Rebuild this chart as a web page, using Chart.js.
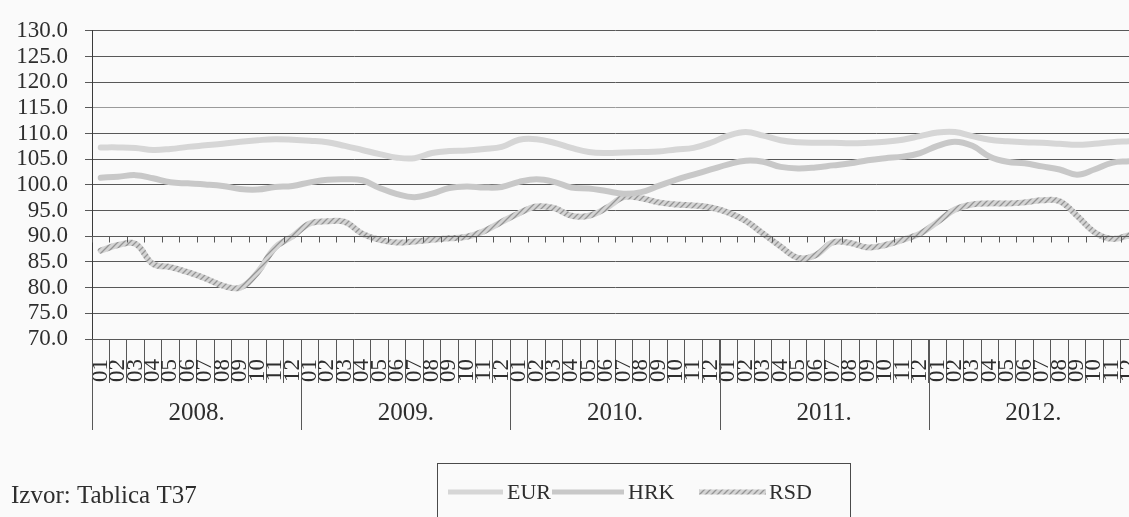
<!DOCTYPE html>
<html>
<head>
<meta charset="utf-8">
<script src="https://cdn.jsdelivr.net/npm/chart.js@4"></script>
<style>
  html, body { margin: 0; padding: 0; background: #fafafa; overflow: hidden; }
  #wrap { width: 1150px; height: 517px; }
</style>
</head>
<body>
<div id="wrap"><canvas id="c" width="1150" height="517"></canvas></div>
<script>
// ---- data ----
const months = ['01','02','03','04','05','06','07','08','09','10','11','12'];
const years = ['2008.','2009.','2010.','2011.','2012.'];
const seriesNames = ['EUR','HRK','RSD'];
const eur = [107.3,107.3,107.2,106.8,107.0,107.4,107.7,108.0,108.4,108.7,108.9,108.8,
             108.6,108.3,107.6,106.8,106.0,105.3,105.2,106.2,106.6,106.7,107.0,107.4,
             108.8,108.9,108.2,107.2,106.4,106.2,106.3,106.4,106.5,106.9,107.2,108.2,
             109.6,110.3,109.6,108.7,108.3,108.2,108.2,108.1,108.2,108.4,108.8,109.5,
             110.2,110.3,109.5,108.8,108.5,108.3,108.2,108.0,107.8,108.0,108.3,108.5];
const hrk = [101.4,101.6,101.9,101.3,100.5,100.3,100.1,99.8,99.2,99.1,99.6,99.8,
             100.5,101.0,101.1,100.9,99.4,98.2,97.6,98.3,99.4,99.7,99.5,99.6,
             100.6,101.1,100.6,99.5,99.3,98.8,98.3,98.6,99.8,101.0,102.0,103.0,
             104.0,104.7,104.5,103.5,103.2,103.4,103.8,104.2,104.8,105.2,105.5,106.2,
             107.6,108.4,107.6,105.5,104.5,104.2,103.6,103.0,102.0,103.0,104.3,104.6];
const rsd = [87.2,88.3,88.5,84.6,84.0,83.0,81.8,80.4,80.0,83.0,87.8,90.0,
             92.5,92.9,92.8,90.5,89.3,88.8,89.0,89.3,89.6,89.9,91.0,92.8,
             94.5,95.8,95.5,94.0,94.0,95.5,97.6,97.4,96.6,96.2,96.0,95.6,
             94.6,93.0,90.5,88.0,85.8,86.3,88.8,88.7,87.8,88.3,89.3,90.5,
             92.8,95.2,96.2,96.4,96.4,96.6,97.0,96.8,94.0,90.8,89.5,90.2];
const yMin = 70, yMax = 130, yStep = 5;
const axisCross = 90;
const sourceText = 'Izvor: Tablica T37';

const labels = years.flatMap(() => months);

// hatched pattern for RSD
function hatch() {
  const p = document.createElement('canvas');
  p.width = 6; p.height = 6;
  const g = p.getContext('2d');
  g.fillStyle = '#d4d4d4'; g.fillRect(0, 0, 6, 6);
  g.strokeStyle = '#959595'; g.lineWidth = 1.3;
  g.beginPath();
  g.moveTo(0, 6); g.lineTo(6, 0);
  g.moveTo(-3, 3); g.lineTo(3, -3);
  g.moveTo(3, 9); g.lineTo(9, 3);
  g.stroke();
  return g.createPattern(p, 'repeat');
}

const FONT = '"Liberation Serif", "Times New Roman", serif';
const TXT = '#2e2e2e';
const GRID = '#585858';

const extras = {
  id: 'extras',
  beforeDraw(chart) {
    const ctx = chart.ctx;
    ctx.save();
    ctx.fillStyle = '#fafafa';
    ctx.fillRect(0, 0, chart.width, chart.height);
    ctx.restore();
  },
  afterDraw(chart) {
    const ctx = chart.ctx;
    const xs = chart.scales.x, ys = chart.scales.y;
    const ca = chart.chartArea;
    const half = (xs.getPixelForValue(1) - xs.getPixelForValue(0)) / 2;
    ctx.save();
    // axis crossing line at 90 with small ticks
    const yc = Math.round(ys.getPixelForValue(axisCross)) + 0.5;
    ctx.strokeStyle = GRID; ctx.lineWidth = 1;
    ctx.beginPath();
    ctx.moveTo(ca.left, yc); ctx.lineTo(ca.right, yc);
    for (let i = 0; i <= labels.length; i++) {
      const x = Math.round(xs.getPixelForValue(i) - half) + 0.5;
      ctx.moveTo(x, yc); ctx.lineTo(x, yc + 6);
    }
    ctx.stroke();
    // year separators + labels
    const yb = ca.bottom, yEnd = 430;
    ctx.beginPath();
    for (let k = 0; k <= years.length; k++) {
      const x = Math.round(xs.getPixelForValue(k * 12) - half) + 0.5;
      ctx.moveTo(x, yb); ctx.lineTo(x, yEnd);
    }
    ctx.stroke();
    ctx.fillStyle = TXT;
    ctx.font = '25px ' + FONT;
    ctx.textAlign = 'center'; ctx.textBaseline = 'middle';
    years.forEach((yr, k) => {
      const x0 = xs.getPixelForValue(k * 12) - half;
      const x1 = xs.getPixelForValue(k * 12 + 11) + half;
      ctx.fillText(yr, (x0 + x1) / 2, 413);
    });
    // source text
    ctx.textAlign = 'left'; ctx.textBaseline = 'alphabetic';
    ctx.font = '25px ' + FONT;
    ctx.fillText(sourceText, 11, 503);
    // legend
    ctx.strokeStyle = '#4a4a4a'; ctx.lineWidth = 1;
    ctx.strokeRect(437.5, 463.5, 413, 60);
    const items = [
      {x0: 448, x1: 503, tx: 507},
      {x0: 552, x1: 624, tx: 628},
      {x0: 699, x1: 766, tx: 769}
    ];
    ctx.font = '22px ' + FONT;
    ctx.textBaseline = 'middle';
    chart.data.datasets.forEach((ds, i) => {
      const it = items[i];
      ctx.strokeStyle = ds.borderColor; ctx.lineWidth = 5;
      ctx.beginPath(); ctx.moveTo(it.x0, 492); ctx.lineTo(it.x1, 492); ctx.stroke();
      ctx.fillStyle = TXT;
      ctx.fillText(ds.label, it.tx, 493);
    });
    ctx.restore();
  }
};

new Chart(document.getElementById('c'), {
  type: 'line',
  data: {
    labels: labels,
    datasets: [
      {label: seriesNames[0], data: eur, borderColor: '#d6d6d6', borderWidth: 6},
      {label: seriesNames[1], data: hrk, borderColor: '#c8c8c8', borderWidth: 6},
      {label: seriesNames[2], data: rsd, borderColor: hatch(), borderWidth: 6}
    ]
  },
  options: {
    responsive: false,
    animation: false,
    devicePixelRatio: 1,
    elements: { point: { radius: 0 }, line: { tension: 0.4, borderCapStyle: 'round' } },
    layout: { padding: { left: 0, top: 19, right: 12, bottom: 0 } },
    plugins: { legend: { display: false }, tooltip: { enabled: false } },
    scales: {
      x: {
        offset: true,
        afterFit: s => { s.height = 517 - 339 - 0; },
        grid: { offset: true, drawOnChartArea: false, drawTicks: true, tickLength: 44, tickColor: GRID, tickWidth: 1 },
        border: { display: false },
        ticks: {
          autoSkip: false, minRotation: 90, maxRotation: 90, padding: -24,
          color: TXT, font: { family: FONT, size: 23 }
        }
      },
      y: {
        min: yMin, max: yMax,
        afterFit: s => { s.width = 92; },
        grid: {
          color: ctx => (ctx.tick && ctx.tick.value === 115) ? '#9a9a9a' : GRID,
          lineWidth: 1, tickLength: 7, tickColor: GRID
        },
        border: { display: true, color: '#3a3a3a', width: 1 },
        ticks: {
          autoSkip: false,
          stepSize: yStep, padding: 17, color: TXT,
          font: { family: FONT, size: 23 },
          callback: v => Number(v).toFixed(1)
        }
      }
    }
  },
  plugins: [extras]
});
</script>
</body>
</html>
